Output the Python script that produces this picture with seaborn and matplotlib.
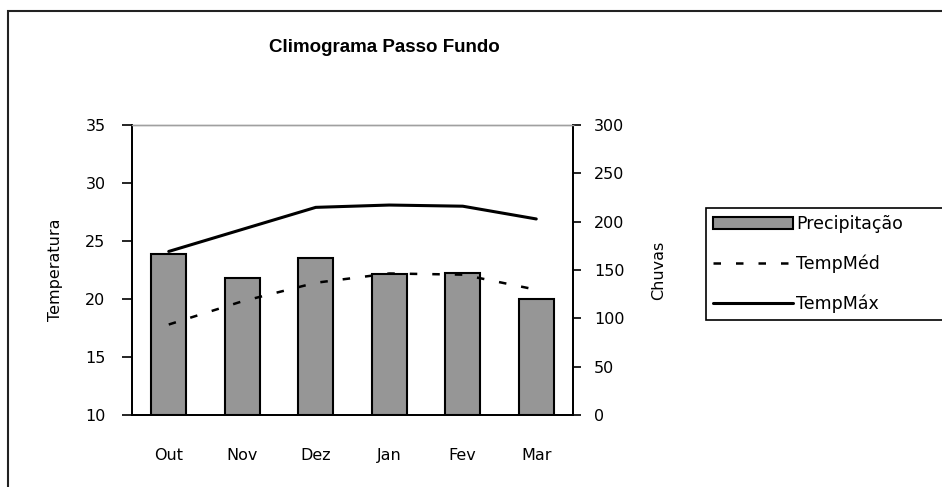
import matplotlib
matplotlib.use("Agg")
import matplotlib.pyplot as plt
from matplotlib.patches import Rectangle, Patch
from matplotlib.lines import Line2D
import seaborn as sns
import pandas as pd

# Climograma data
months = ["Out", "Nov", "Dez", "Jan", "Fev", "Mar"]
precip = [167, 142, 162, 146, 147, 120]
temp_med = [17.8, 19.8, 21.4, 22.2, 22.1, 20.8]
temp_max = [24.1, 26.0, 27.9, 28.1, 28.0, 26.9]

sns.set_style("white")
plt.rcParams["font.family"] = ["DejaVu Sans"]
plt.rcParams["text.color"] = "black"
plt.rcParams["axes.labelcolor"] = "black"
plt.rcParams["xtick.color"] = "black"
plt.rcParams["ytick.color"] = "black"

df = pd.DataFrame({"Mes": months, "Precipitação": precip,
                   "TempMéd": temp_med, "TempMáx": temp_max})

fig = plt.figure(figsize=(9.42, 4.87), dpi=100)
ax = fig.add_axes([132 / 942, 72 / 487, 441 / 942, 290 / 487])

# Bars: precipitation (right axis)
sns.barplot(data=df, x="Mes", y="Precipitação", ax=ax, color="#969696",
            edgecolor="black", linewidth=1.5, width=0.48, saturation=1)

# Lines: temperature (left axis)
ax2 = ax.twinx()
sns.pointplot(data=df, x="Mes", y="TempMáx", ax=ax2, color="black",
              marker="", linestyle="-", linewidth=2.2, errorbar=None)
sns.pointplot(data=df, x="Mes", y="TempMéd", ax=ax2, color="black",
              marker="", linestyle=(0, (3, 6)), linewidth=1.8, errorbar=None)

# axis sides: precipitation right, temperature left
ax.yaxis.tick_right()
ax.yaxis.set_label_position("right")
ax2.yaxis.tick_left()
ax2.yaxis.set_label_position("left")

ax.set_ylim(0, 300)
ax.set_yticks(range(0, 301, 50))
ax.set_ylabel("Chuvas", fontsize=11.5, labelpad=19)
ax.set_xlabel("")
ax2.set_ylim(10, 35)
ax2.set_yticks(range(10, 36, 5))
ax2.set_ylabel("Temperatura", fontsize=11.5, labelpad=16)
ax2.set_xlabel("")

ax.set_xlim(-0.5, 5.5)
ax.set_xticks(range(len(months)), months)
ax.set_xticks([i - 0.5 for i in range(len(months) + 1)], minor=True)
ax.tick_params(axis="x", which="major", length=0, pad=24, labelsize=11.5)
ax.tick_params(axis="x", which="minor", length=7, width=1.2, direction="out")
ax.tick_params(axis="y", length=6, width=1.2, direction="out", pad=9, labelsize=11.5)
ax2.tick_params(axis="y", length=7, width=1.2, direction="out", pad=12, labelsize=11.5)

for a in (ax, ax2):
    for s in ("left", "right", "bottom"):
        a.spines[s].set_color("black")
        a.spines[s].set_linewidth(1.3)
    a.spines["top"].set_color("#a0a0a0")
    a.spines["top"].set_linewidth(1.0)

fig.text(384 / 942, 1 - 48 / 487, "Climograma Passo Fundo", ha="center",
         va="center", fontsize=13.5, fontweight="bold",
         family=["Liberation Sans", "DejaVu Sans"])

handles = [
    Patch(facecolor="#969696", edgecolor="black", linewidth=1.5),
    Line2D([], [], color="black", linestyle=(0, (3, 6)), linewidth=1.8),
    Line2D([], [], color="black", linestyle="-", linewidth=2.2),
]
leg = fig.legend(handles, ["Precipitação", "TempMéd", "TempMáx"],
                 loc="upper left",
                 bbox_to_anchor=(706 / 942, 1 - 208 / 487, 250 / 942, 0),
                 mode="expand",
                 frameon=True, fancybox=False, edgecolor="black", framealpha=1,
                 fontsize=12.5, handlelength=4.6, handleheight=0.7,
                 labelspacing=1.25, borderpad=0.4, handletextpad=0.2,
                 borderaxespad=0)
leg.get_frame().set_linewidth(1.2)

# Chart area border, cut off at the right and bottom like the original
fig.patches.append(Rectangle((8 / 942, -0.05), 1.0, 1 - 11 / 487 + 0.05,
                             transform=fig.transFigure, fill=False,
                             edgecolor="#222222", linewidth=1.5))

fig.savefig("out.png", dpi=100)
